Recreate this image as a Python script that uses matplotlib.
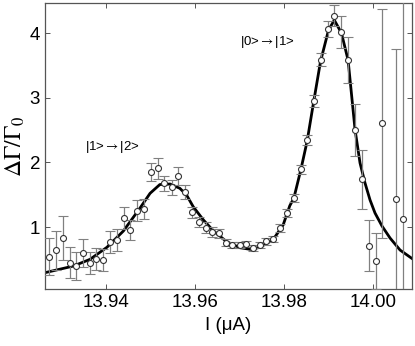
import matplotlib
matplotlib.use('Agg')
import matplotlib.pyplot as plt

plt.rcParams['font.family'] = ['Liberation Sans', 'DejaVu Sans']
plt.rcParams['mathtext.fontset'] = 'stix'

# measured points (current in uA, relative escape rate change, error)
current = [13.9272, 13.9287, 13.9303, 13.9318, 13.9333, 13.9348, 13.9363, 13.9378,
           13.9393, 13.9409, 13.9425, 13.9440, 13.9455, 13.9470, 13.9485, 13.9501,
           13.9516, 13.9531, 13.9548, 13.9562, 13.9578, 13.9593, 13.9609, 13.9624,
           13.9639, 13.9654, 13.9670, 13.9684, 13.9700, 13.9715, 13.9730, 13.9745,
           13.9760, 13.9776, 13.9791, 13.9806, 13.9822, 13.9838, 13.9852, 13.9867,
           13.9882, 13.9898, 13.9913, 13.9929, 13.9944, 13.9960, 13.9975, 13.9990,
           14.0006, 14.0021, 14.0052, 14.0067]
rate = [0.541, 0.640, 0.835, 0.448, 0.397, 0.598, 0.448, 0.510,
        0.490, 0.768, 0.799, 1.134, 0.954, 1.252, 1.278, 1.855,
        1.907, 1.675, 1.614, 1.788, 1.546, 1.227, 1.082, 0.992,
        0.923, 0.900, 0.760, 0.725, 0.726, 0.734, 0.672, 0.725,
        0.779, 0.818, 0.989, 1.212, 1.444, 1.892, 2.345, 2.952,
        3.589, 4.060, 4.266, 4.014, 3.581, 2.504, 1.737, 0.711,
        0.478, 2.603, 1.433, 1.124]
err = [0.29, 0.30, 0.34, 0.24, 0.21, 0.22, 0.17, 0.17,
       0.17, 0.17, 0.17, 0.17, 0.15, 0.16, 0.15, 0.14,
       0.16, 0.12, 0.12, 0.14, 0.11, 0.09, 0.08, 0.08,
       0.07, 0.07, 0.06, 0.05, 0.05, 0.05, 0.05, 0.05,
       0.05, 0.05, 0.06, 0.06, 0.06, 0.07, 0.08, 0.09,
       0.10, 0.12, 0.165, 0.25, 0.35, 0.40, 0.46, 0.39,
       0.43, 1.77, 2.32, 3.5]

# fitted curve
fit_x = [13.9263, 13.9327, 13.9364, 13.9402, 13.9439, 13.9476, 13.9499, 13.9521,
         13.9544, 13.9566, 13.9581, 13.9596, 13.9619, 13.9641, 13.9671, 13.9701,
         13.9724, 13.9746, 13.9776, 13.9798, 13.9813, 13.9822, 13.9838, 13.9852,
         13.9866, 13.9882, 13.9900, 13.9913, 13.9929, 13.9944, 13.99596, 13.99708,
         13.99820, 13.99933, 14.00045, 14.00202, 14.00382, 14.00607, 14.00876]
fit_y = [0.294, 0.397, 0.500, 0.686, 0.938, 1.289, 1.521, 1.657,
         1.665, 1.598, 1.495, 1.314, 1.108, 0.943, 0.773, 0.680,
         0.655, 0.686, 0.810, 1.031, 1.330, 1.444, 1.892, 2.330,
         2.912, 3.560, 4.045, 4.200, 4.000, 3.580, 2.505, 1.990,
         1.680, 1.418, 1.216, 1.015, 0.830, 0.644, 0.513]

fig = plt.figure(figsize=(4.15, 3.46), dpi=100)
ax = fig.add_axes([0.1084, 0.1639, 0.8844, 0.8274])

ax.plot(fit_x, fit_y, color='black', lw=2.0, zorder=2)
ax.errorbar(current, rate, yerr=err, fmt='o', ms=4.3, mfc='white', mec='#333333',
            mew=0.8, ecolor='#808080', elinewidth=0.9, capsize=3.5, capthick=0.9,
            zorder=3)

ax.text(13.9353, 2.236, r'|1>$\rightarrow$|2>', fontsize=9.5, va='center')
ax.text(13.9701, 3.859, r'|0>$\rightarrow$|1>', fontsize=9.5, va='center')

ax.set_xlim(13.92629, 14.00876)
ax.set_ylim(0.037, 4.464)
ax.set_xticks([13.94, 13.96, 13.98, 14.00])
ax.set_xticklabels(['13.94', '13.96', '13.98', '14.00'])
ax.set_yticks([1, 2, 3, 4])
ax.tick_params(direction='in', top=True, right=True, length=3.5, width=0.7,
               labelsize=13.5, color='#555555')
for s in ax.spines.values():
    s.set_color('#555555')
    s.set_linewidth(0.9)

ax.set_xlabel('I (\u03bcA)', fontsize=13.5)
ax.set_ylabel(r'$\Delta\Gamma/\Gamma_0$', fontsize=17, labelpad=2)

fig.savefig('out.png')
